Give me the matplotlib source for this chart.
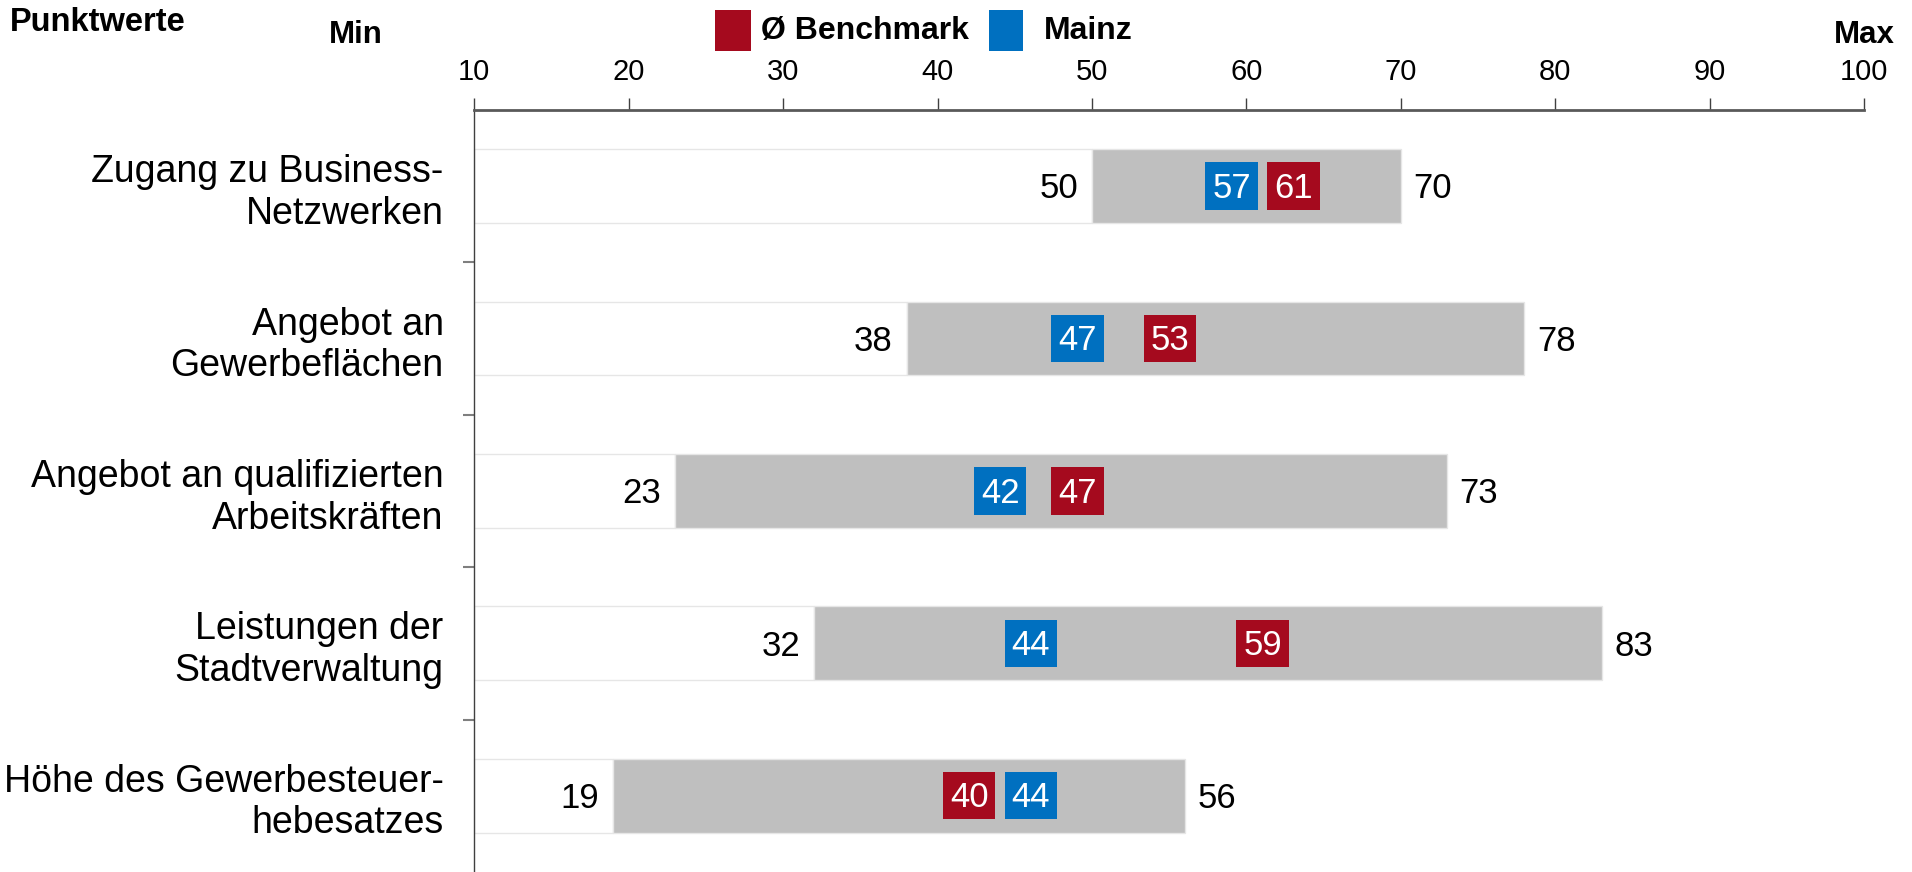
import matplotlib.pyplot as plt
from matplotlib.patches import Rectangle

plt.rcParams["font.family"] = ["Liberation Sans", "DejaVu Sans"]

categories = [
    "Zugang zu Business-\nNetzwerken",
    "Angebot an\nGewerbeflächen",
    "Angebot an qualifizierten\nArbeitskräften",
    "Leistungen der\nStadtverwaltung",
    "Höhe des Gewerbesteuer-\nhebesatzes",
]
mins = [50, 38, 23, 32, 19]
maxs = [70, 78, 73, 83, 56]
benchmark = [61, 53, 47, 59, 40]
mainz = [57, 47, 42, 44, 44]
xticks = [10, 20, 30, 40, 50, 60, 70, 80, 90, 100]

RED = "#A50A1E"
BLUE = "#0070C0"
GRAY = "#BFBFBF"

fig = plt.figure(figsize=(19.12, 8.72), dpi=100)
ax = fig.add_axes([0.248, 0.0, 0.727, 0.874])
ax.set_xlim(10, 100)
ax.set_ylim(4.5, -0.5)

bar_h = 0.485
box_w = 3.4
box_h = 0.31
box_shift = 0.35  # markers sit just right of their value

for i in range(len(categories)):
    # white part from axis start to min
    ax.barh(i, mins[i] - 10, left=10, height=bar_h, color="white",
            edgecolor="#E6E6E6", linewidth=1, zorder=1)
    # grey range min..max
    ax.barh(i, maxs[i] - mins[i], left=mins[i], height=bar_h, color=GRAY,
            edgecolor="#E6E6E6", linewidth=1, zorder=2)
    ax.annotate(str(mins[i]), (mins[i], i), xytext=(-10, -2),
                textcoords="offset points", ha="right", va="center", fontsize=25)
    ax.annotate(str(maxs[i]), (maxs[i], i), xytext=(9, -2),
                textcoords="offset points", ha="left", va="center", fontsize=25)
    for val, col in ((mainz[i], BLUE), (benchmark[i], RED)):
        x0 = val + box_shift
        ax.add_patch(Rectangle((x0, i - box_h / 2), box_w, box_h,
                               facecolor=col, edgecolor="none", zorder=3))
        ax.annotate(str(val), (x0 + box_w / 2, i), xytext=(0, -1.5),
                    textcoords="offset points", color="white", ha="center",
                    va="center", fontsize=25, zorder=4)

ax.set_yticks(range(len(categories)))
ax.set_yticklabels(categories, fontsize=27, ha="right")
ax.tick_params(axis="y", length=0, pad=22)
ax.set_yticks([0.5, 1.5, 2.5, 3.5], minor=True)
ax.tick_params(axis="y", which="minor", length=8, width=1.5, color="#7F7F7F")

ax.xaxis.tick_top()
ax.set_xticks(xticks)
ax.set_xticklabels([str(t) for t in xticks], fontsize=21)
ax.tick_params(axis="x", length=9, width=1, color="#404040", pad=8)

for side in ("right", "bottom"):
    ax.spines[side].set_visible(False)
ax.spines["top"].set_color("#595959")
ax.spines["top"].set_linewidth(2)
ax.spines["left"].set_color("#404040")
ax.spines["left"].set_linewidth(1)

# header texts
fig.text(0.005, 0.974, "Punktwerte", fontsize=23.5, fontweight="bold",
         ha="left", va="center")
fig.text(0.186, 0.960, "Min", fontsize=22.5, fontweight="bold", ha="center", va="center")
fig.text(0.991, 0.960, "Max", fontsize=22.5, fontweight="bold", ha="right", va="center")

# legend
fig.patches.append(Rectangle((0.374, 0.941), 0.019, 0.048, transform=fig.transFigure,
                             facecolor=RED, edgecolor="none"))
fig.text(0.398, 0.964, "Ø Benchmark", fontsize=23, fontweight="bold",
         ha="left", va="center")
fig.patches.append(Rectangle((0.517, 0.941), 0.018, 0.048, transform=fig.transFigure,
                             facecolor=BLUE, edgecolor="none"))
fig.text(0.546, 0.964, "Mainz", fontsize=23, fontweight="bold",
         ha="left", va="center")

fig.savefig("out.png", dpi=100)
